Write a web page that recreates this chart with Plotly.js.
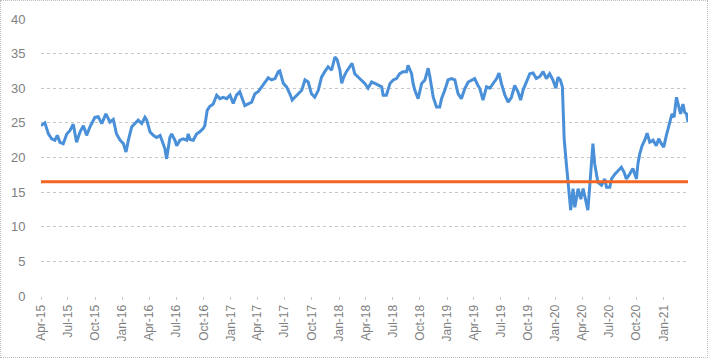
<!DOCTYPE html>
<html>
<head>
<meta charset="utf-8">
<script src="https://cdn.plot.ly/plotly-3.0.1.min.js"></script>
<style>
  html, body { margin: 0; padding: 0; background: #fff; }
  #wrap { position: relative; width: 708px; height: 358px; }
  #chart { position: absolute; left: 0; top: 0; width: 708px; height: 358px; }
  #frame { position: absolute; left: 0; top: 0; width: 706px; height: 356px; border: 1px dotted #bdbdbd; pointer-events: none; }
</style>
</head>
<body>
<div id="wrap"><div id="chart"></div><div id="frame"></div></div>
<script>
// Dates of the readings
const dates = [
 "2015-04-01","2015-04-14","2015-04-26","2015-05-07","2015-05-18","2015-05-26","2015-06-04","2015-06-15","2015-06-27","2015-07-08",
 "2015-07-19","2015-07-30","2015-08-11","2015-08-22","2015-09-02","2015-09-13","2015-09-30","2015-10-11","2015-10-23","2015-11-06",
 "2015-11-20","2015-12-01","2015-12-12","2015-12-24","2016-01-04","2016-01-13","2016-01-21","2016-02-01","2016-02-12","2016-02-23",
 "2016-03-06","2016-03-17","2016-03-23","2016-04-03","2016-04-14","2016-04-25","2016-05-07","2016-05-16","2016-05-23","2016-05-29",
 "2016-06-09","2016-06-15","2016-06-26","2016-07-02","2016-07-13","2016-07-24","2016-08-05","2016-08-10","2016-08-16","2016-08-27",
 "2016-09-07","2016-09-18","2016-09-30","2016-10-05","2016-10-13","2016-10-22","2016-11-02","2016-11-14","2016-11-25","2016-12-06",
 "2016-12-18","2016-12-29","2017-01-09","2017-01-20","2017-01-31",
 "2017-02-17","2017-02-28","2017-03-12","2017-03-23","2017-04-03","2017-04-15","2017-04-26","2017-05-07","2017-05-18","2017-05-30",
 "2017-06-10","2017-06-15","2017-06-27","2017-07-08","2017-07-19","2017-07-27","2017-08-05","2017-08-16","2017-08-28","2017-09-08",
 "2017-09-19","2017-09-30","2017-10-11","2017-10-23","2017-11-03","2017-11-14","2017-11-25","2017-12-07","2017-12-18","2017-12-26",
 "2018-01-04","2018-01-10","2018-01-17","2018-01-26","2018-02-07","2018-02-14","2018-02-23","2018-03-07","2018-03-18","2018-03-29",
 "2018-04-09","2018-04-21","2018-05-02","2018-05-13","2018-05-25","2018-05-30","2018-06-10","2018-06-22","2018-07-03","2018-07-14",
 "2018-07-25","2018-08-05","2018-08-17","2018-08-22","2018-09-03","2018-09-08","2018-09-14","2018-09-25","2018-10-07","2018-10-18",
 "2018-10-29","2018-11-04","2018-11-15","2018-11-26","2018-12-07","2018-12-13","2018-12-24","2019-01-04","2019-01-16","2019-01-27",
 "2019-02-07","2019-02-18","2019-03-02","2019-03-13","2019-03-24","2019-04-04","2019-04-15","2019-04-21",
 "2019-05-02","2019-05-14","2019-05-25","2019-06-05","2019-06-17","2019-06-25","2019-07-03","2019-07-15","2019-07-26","2019-08-06",
 "2019-08-17","2019-08-28","2019-09-06","2019-09-14","2019-09-26","2019-10-07","2019-10-18","2019-10-29","2019-11-10","2019-11-21",
 "2019-12-02","2019-12-13","2019-12-24","2020-01-03","2020-01-10","2020-01-18","2020-01-25",
 "2020-01-31","2020-02-08","2020-02-15","2020-02-22","2020-03-01","2020-03-07","2020-03-18","2020-03-27","2020-04-04","2020-04-13",
 "2020-04-20","2020-04-26","2020-05-02","2020-05-07","2020-05-13","2020-05-19","2020-05-24","2020-06-05","2020-06-16","2020-06-22",
 "2020-07-03","2020-07-09","2020-07-20","2020-07-31","2020-08-11","2020-08-20","2020-08-28","2020-09-08","2020-09-19","2020-10-01",
 "2020-10-06","2020-10-12","2020-10-20","2020-10-29","2020-11-06","2020-11-15","2020-11-26","2020-12-07","2020-12-15","2020-12-24",
 "2021-01-01","2021-01-10","2021-01-21","2021-01-29","2021-02-05","2021-02-13","2021-02-21","2021-02-27","2021-03-07","2021-03-13",
 "2021-03-19","2021-03-24"
];
// Series values
const values = [
 24.6,25,23.4,22.7,22.5,23.2,22.2,22,23.4,23.9,
 24.8,22.2,23.7,24.6,23.2,24.4,25.8,25.9,24.9,26.3,
 25.1,25.5,23.4,22.5,22,20.8,22.5,24.4,24.9,25.4,
 24.9,25.8,25.4,23.7,23.2,22.9,23.2,22,21.3,19.8,
 22.9,23.4,22.5,21.7,22.5,22.7,22.5,23.4,22.6,22.5,
 23.4,23.7,24.2,24.6,26.8,27.4,27.7,29,28.5,28.7,
 28.5,29,27.8,29,29.5,
 27.5,27.8,28,29.2,29.5,30.2,30.9,31.5,31.2,31.4,
 32.4,32.5,30.7,30.2,29.2,28.3,28.7,29.2,29.7,31.2,
 30.9,29.2,28.7,29.7,31.6,32.4,33.1,32.6,34.5,34.1,
 32.6,30.7,31.6,32.4,33.1,33.6,32.1,31.6,31.2,30.7,
 30,30.9,30.7,30.4,30.2,29,29,30.7,31.2,31.4,
 32.1,32.4,32.4,33.3,32.1,30.7,29.7,28.5,30.7,31.2,
 32.9,31.6,28.7,27.3,27.3,28.5,29.7,31.2,31.4,31.2,
 29.2,28.5,30,30.9,31.2,31.4,30.4,30,
 28.3,30.2,30,30.7,31.4,32.2,30.7,29,28,28.7,
 30.4,29.5,28.3,29.7,30.9,32.1,32.2,31.4,31.7,32.4,
 31.4,32.1,31.2,30,31.6,31.2,30.2,
 22.7,18.8,15.5,12.4,15.5,12.8,15.5,14,15.5,13.6,
 12.4,15.7,18.6,22,19.1,17.2,16.4,16,16.9,15.7,
 15.7,16.9,17.6,18.1,18.6,17.9,16.9,17.6,18.4,16.9,
 19.1,20.5,21.7,22.5,23.5,22.2,22.5,21.7,22.7,22,
 21.5,23.2,24.9,26.3,25.8,28.7,27.3,26.3,27.7,26.5,
 26.3,25.1
];
// Horizontal reference level
const thresholdValue = 16.5;
// Axis ticks
const tickDates = ["2015-04-01","2015-07-01","2015-10-01","2016-01-01","2016-04-01","2016-07-01","2016-10-01","2017-01-01",
 "2017-04-01","2017-07-01","2017-10-01","2018-01-01","2018-04-01","2018-07-01","2018-10-01","2019-01-01",
 "2019-04-01","2019-07-01","2019-10-01","2020-01-01","2020-04-01","2020-07-01","2020-10-01","2021-01-01"];
const tickLabels = ["Apr-15","Jul-15","Oct-15","Jan-16","Apr-16","Jul-16","Oct-16","Jan-17",
 "Apr-17","Jul-17","Oct-17","Jan-18","Apr-18","Jul-18","Oct-18","Jan-19",
 "Apr-19","Jul-19","Oct-19","Jan-20","Apr-20","Jul-20","Oct-20","Jan-21"];
const yTicks = [0,5,10,15,20,25,30,35,40];

const first = dates[0], last = dates[dates.length - 1];

const traces = [
  {
    x: dates, y: values, type: 'scatter', mode: 'lines',
    line: { color: '#4a90d9', width: 3 }, hoverinfo: 'skip', showlegend: false
  },
  {
    x: [first, last], y: [thresholdValue, thresholdValue], type: 'scatter', mode: 'lines',
    line: { color: '#f26522', width: 3 }, hoverinfo: 'skip', showlegend: false
  }
];

const layout = {
  width: 708, height: 358,
  margin: { l: 41, r: 20, t: 19, b: 62, pad: 0 },
  paper_bgcolor: '#ffffff', plot_bgcolor: '#ffffff',
  font: { family: 'Liberation Sans, Arial, sans-serif', color: '#7f7f7f', size: 12 },
  xaxis: {
    type: 'date', range: [first, last],
    tickmode: 'array', tickvals: tickDates, ticktext: tickLabels,
    tickangle: -90, tickfont: { size: 12, color: '#7f7f7f' },
    showgrid: false, zeroline: false, showline: false,
    ticks: 'outside', ticklen: 3, tickcolor: '#c8c8c8', tickwidth: 1
  },
  yaxis: {
    range: [0, 40], tickmode: 'array', tickvals: yTicks,
    tickfont: { size: 13, color: '#7f7f7f' },
    showgrid: true, gridcolor: '#c6c6c6', griddash: 'dot', gridwidth: 1,
    zeroline: false, showline: false,
    ticks: 'outside', ticklen: 12, tickcolor: 'rgba(0,0,0,0)'
  }
};

Plotly.newPlot('chart', traces, layout, { displayModeBar: false, staticPlot: true });
</script>
</body>
</html>
